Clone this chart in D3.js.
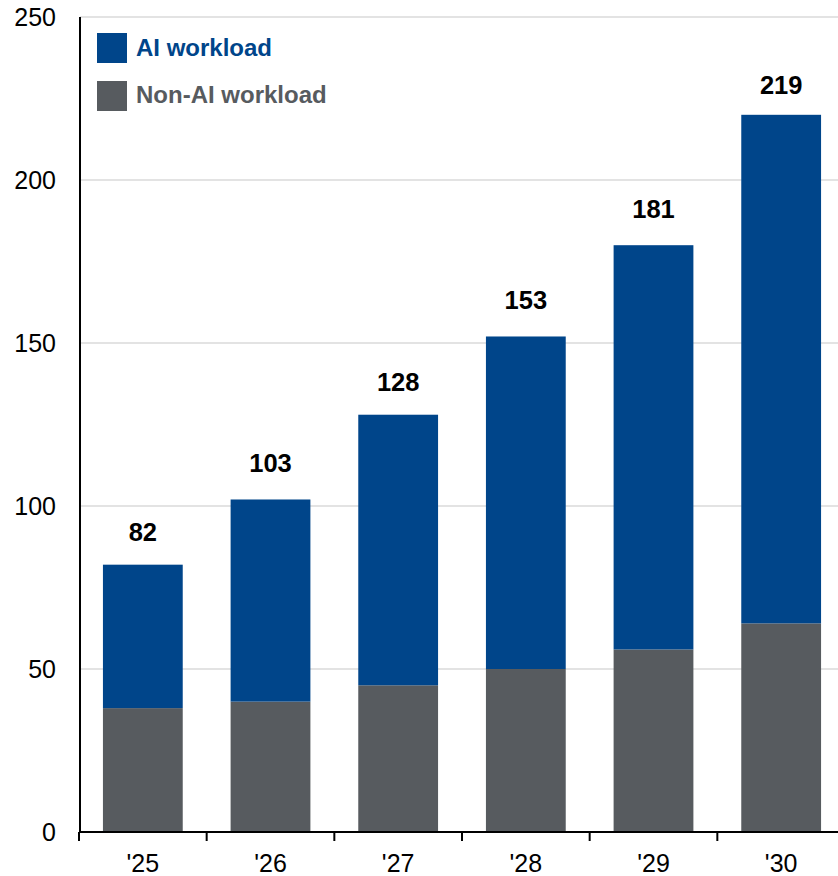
<!DOCTYPE html>
<html><head><meta charset="utf-8">
<script src="https://cdn.jsdelivr.net/npm/d3@7"></script>
<style>
body{margin:0;background:#fff;}
svg{display:block;font-family:"Liberation Sans",Arial,sans-serif;}
</style></head>
<body><svg id="c" width="838" height="876"></svg>
<script>
const categories = ["'25","'26","'27","'28","'29","'30"];
const nonAI = [38, 40, 45, 50, 56, 64];
const ai = [44, 62, 83, 102, 124, 156];
const totalLabels = [82, 103, 128, 153, 181, 219];
const yTicks = [0, 50, 100, 150, 200, 250];
const seriesNames = ["AI workload", "Non-AI workload"];
const colors = {ai: "#00458a", non: "#575b5f"};

const svg = d3.select("#c");
const y = d3.scaleLinear().domain([0, 250]).range([832, 17]);
const x = d3.scaleBand().domain(categories).range([79, 845]).paddingInner(0.375).paddingOuter(0.1875);
const xb = d3.scaleBand().domain(categories).range([79, 845]).padding(0);

// gridlines
svg.append("g").selectAll("line").data(yTicks.filter(d => d > 0)).join("line")
  .attr("x1", 80).attr("x2", 838)
  .attr("y1", d => y(d)).attr("y2", d => y(d))
  .attr("stroke", "#c8c8c8").attr("stroke-width", 1.2);

// y tick labels
svg.append("g").selectAll("text").data(yTicks).join("text")
  .attr("x", 56).attr("y", d => y(d)).attr("dy", "0.36em")
  .attr("text-anchor", "end").attr("font-size", 25).attr("fill", "#000")
  .text(d => d);

// stacked bars
const stack = categories.map((c, i) => ({c, non: nonAI[i], ai: ai[i]}));
const g = svg.append("g");
g.selectAll("rect.non").data(stack).join("rect").attr("class", "non")
  .attr("x", d => x(d.c)).attr("width", x.bandwidth())
  .attr("y", d => y(d.non)).attr("height", d => y(0) - y(d.non))
  .attr("fill", colors.non);
g.selectAll("rect.ai").data(stack).join("rect").attr("class", "ai")
  .attr("x", d => x(d.c)).attr("width", x.bandwidth())
  .attr("y", d => y(d.non + d.ai)).attr("height", d => y(d.non) - y(d.non + d.ai))
  .attr("fill", colors.ai);

// total labels
svg.append("g").selectAll("text").data(categories).join("text")
  .attr("x", d => x(d) + x.bandwidth() / 2)
  .attr("y", (d, i) => y(totalLabels[i]) - 24)
  .attr("text-anchor", "middle").attr("font-size", 25.5).attr("font-weight", "bold")
  .attr("fill", "#000").text((d, i) => totalLabels[i]);

// axes
svg.append("line").attr("x1", 80).attr("x2", 80).attr("y1", y(250)).attr("y2", y(0) + 1)
  .attr("stroke", "#000").attr("stroke-width", 2);
svg.append("line").attr("x1", 79).attr("x2", 838).attr("y1", y(0)).attr("y2", y(0))
  .attr("stroke", "#000").attr("stroke-width", 2);
svg.append("g").selectAll("line").data(categories).join("line")
  .attr("x1", d => xb(d)).attr("x2", d => xb(d))
  .attr("y1", y(0)).attr("y2", y(0) + 9)
  .attr("stroke", "#000").attr("stroke-width", 2);
svg.append("g").selectAll("text").data(categories).join("text")
  .attr("x", d => x(d) + x.bandwidth() / 2).attr("y", 872)
  .attr("text-anchor", "middle").attr("font-size", 25).attr("fill", "#000")
  .text(d => d);

// legend
const leg = svg.append("g");
const legColors = [colors.ai, colors.non];
seriesNames.forEach((n, i) => {
  leg.append("rect").attr("x", 97).attr("y", 33 + i * 48).attr("width", 30).attr("height", 30)
    .attr("fill", legColors[i]);
  leg.append("text").attr("x", 136).attr("y", 56 + i * 47)
    .attr("font-size", 24).attr("font-weight", "bold").attr("fill", legColors[i])
    .text(n);
});
</script></body></html>
